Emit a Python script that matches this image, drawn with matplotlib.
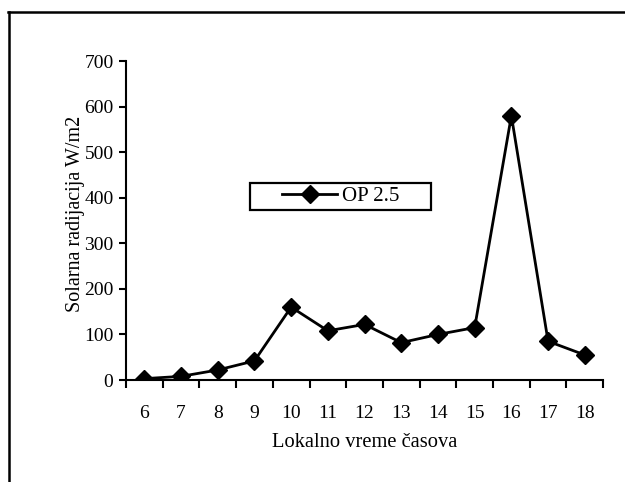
import matplotlib.pyplot as plt
from matplotlib.lines import Line2D
from matplotlib.patches import Rectangle

plt.rcParams['font.family'] = ['Liberation Serif', 'DejaVu Serif']
plt.rcParams['font.size'] = 14

# hourly solar radiation
hours = [6, 7, 8, 9, 10, 11, 12, 13, 14, 15, 16, 17, 18]
radiation = [3, 8, 22, 42, 160, 108, 122, 82, 100, 115, 580, 85, 55]
series_name = 'OP 2.5'

fig = plt.figure(figsize=(6.25, 4.82), dpi=100)
ax = fig.add_axes([0.2016, 0.2116, 0.7634, 0.6618])

ax.plot(hours, radiation, color='black', lw=2, marker='D', markersize=9,
        label=series_name)

ax.set_xlim(hours[0] - 0.5, hours[-1] + 0.5)
ax.set_ylim(0, 700)
ax.set_yticks(range(0, 701, 100))
ax.set_xticks(hours)
# category boundaries get the tick marks, labels sit between them
ax.set_xticks([h + 0.5 for h in [hours[0] - 1] + hours], minor=True)
ax.tick_params(axis='x', which='major', length=0, pad=18)
ax.tick_params(axis='x', which='minor', length=6, width=1.5, direction='out')
ax.tick_params(axis='y', length=5, width=1.5, direction='out', pad=4)

for side in ['top', 'right']:
    ax.spines[side].set_visible(False)
for side in ['left', 'bottom']:
    ax.spines[side].set_linewidth(1.5)

ax.set_xlabel('Lokalno vreme časova', fontsize=14.8, labelpad=8)
ax.set_ylabel('Solarna radijacija W/m2', fontsize=14.5)
ax.yaxis.set_label_coords(-0.086, 0.52)

# wide legend box, entry placed inside it
ax.add_patch(Rectangle((0.26, 0.533), 0.379, 0.085, transform=ax.transAxes,
                       facecolor='white', edgecolor='black', lw=1.6,
                       zorder=3))
leg = ax.legend(loc='center left', bbox_to_anchor=(0.328, 0.576),
                frameon=False, borderpad=0, borderaxespad=0,
                handlelength=2.6, handletextpad=0.25, fontsize=15)
leg.set_zorder(4)

# outer border lines
fig.add_artist(Line2D([8 / 625, 1], [1 - 12 / 482, 1 - 12 / 482],
                      color='black', lw=1.8, transform=fig.transFigure))
fig.add_artist(Line2D([9 / 625, 9 / 625], [0, 1 - 12 / 482],
                      color='black', lw=1.8, transform=fig.transFigure))

fig.savefig('out.png', dpi=100)
